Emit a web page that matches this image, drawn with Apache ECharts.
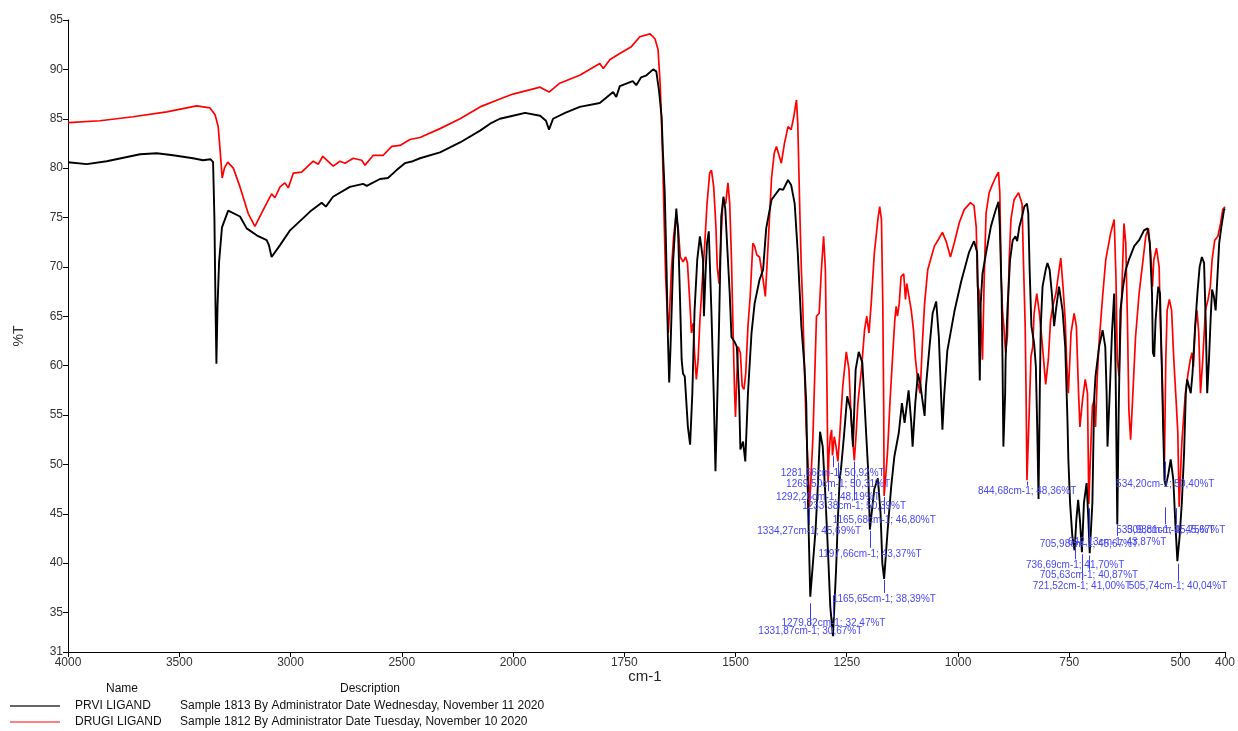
<!DOCTYPE html>
<html><head><meta charset="utf-8">
<script src="https://cdn.jsdelivr.net/npm/echarts@6/dist/echarts.min.js"></script>
<style>html,body{margin:0;padding:0;background:#fff}#c{width:1238px;height:731px}</style>
</head><body><div id="c"></div>
<script>
// ---- axis ticks ----
const xTicksHigh = [4000, 3500, 3000, 2500];
const xTicksLow = [2000, 1750, 1500, 1250, 1000, 750, 500, 400];
const yTicks = [31, 35, 40, 45, 50, 55, 60, 65, 70, 75, 80, 85, 90, 95];

// ---- PRVI LIGAND (black) ----
const prviWn = [4000,3916,3826,3676,3601,3528,3438,3393,3359,3348,3342,3337,3333,3328,3321,3308,3280,3227,3197,3152,3107,3097,3085,3047,3002,2912,2860,2841,2809,2733,2674,2657,2598,2562,2523,2486,2450,2418,2328,2238,2148,2103,2059,2000,
1973,1939,1926,1919,1910,1883,1850,1805,1775,1768,1760,1731,1723,1712,1700,1685,1678,1672,1666,1663,1659,1655,1652,1649,1646,1640,1633,1629,1625,1621,1618,1614,1607,1602,1597,1592,1586,1580,1577,1573,1571,1567,1564,1560,1554,1549,1545,1542,1537,1532,1527,1523,1517,1513,1509,1502,1497,1492,1489,1483,1478,1472,1464,1457,1446,1438,1431,1419,1401,1393,1382,1375,1367,1360,1352,1345,1341,1337,1332,1326,1320,1315,1310,1304,1298,1292,1287,1281,1274,1270,1266,1263,1256,1249,1241,1236,1230,1223,1215,1210,1206,1202,1198,1193,1188,1180,1174,1170,1166,1158,1150,1143,1133,1126,1120,1111,1105,1102,1096,1090,1085,1079,1075,1072,1064,1057,1049,1043,1038,1035,1031,1024,1008,993,975,964,957,954,951,949,945,937,926,915,909,906,902,900,898,894,893,889,883,877,871,867,862,856,851,845,842,839,835,829,825,822,819,816,814,810,803,799,794,789,784,780,773,765,759,754,752,748,743,738,734,730,726,721.5,717,711,707,704,698,694,691,683,675,669,666,664,659,654,649,646,642,639,635,629,623,616,604,593,582,574,569,564,562,559,556,550,546,542,539,536,533,527,522,516,512,507,502,497,492,488,485,481,477,473,467,462,457,452,447,443,440,436,432,429,425,421,417,413,408,402,400];
const prviT = [80.6,80.4,80.7,81.4,81.5,81.3,81.0,80.8,80.9,80.6,75,66,60.2,66,70.5,74.0,75.7,75.1,73.9,73.2,72.7,72.2,71.0,72.2,73.7,75.6,76.5,76.1,77.1,78.1,78.4,78.2,78.9,79.0,79.8,80.5,80.7,81.0,81.6,82.6,83.8,84.5,85.0,85.3,
85.6,85.3,84.8,83.9,85.0,85.6,86.2,86.6,87.7,87.2,88.3,88.8,88.4,89.2,89.4,90.0,89.8,87.9,85.2,81.5,77.5,70,63,58.3,61.9,70.7,75.9,73.6,67.3,60.6,59.2,58.9,53.8,52.0,57.2,65.6,70.7,73.1,72.1,70.7,65.0,69.7,72.4,73.6,65.3,57.2,49.3,54.5,64.0,75.1,77.1,75.9,70.7,67.3,62.9,62.4,61.9,57.2,51.5,52.3,50.3,57.2,63.3,66.3,68.7,69.7,73.9,76.8,77.9,77.8,78.8,78.3,76.4,71.4,64.0,59.9,56.2,46,36.6,40.0,43.4,47.8,53.3,51.8,46.8,41.0,35.6,32.6,39.3,44.4,48.4,49.5,53,56.9,55.5,51.8,59.6,61.4,60.3,56.2,52.8,49.5,43.4,45.5,47.5,48.6,45,40,38.4,43.4,47.8,50.8,53.2,56.2,54.2,57.5,54.2,51.8,56.2,59.2,58.2,56.2,54.9,57.9,61.9,65.3,66.5,62.9,57,53.5,57,61.5,65.5,68.5,71.5,72.6,71.5,65,58.5,66.3,69.3,71.4,74.1,75.8,76.6,74.1,67.3,60.6,51.8,57.2,60.6,65.6,70.7,72.7,73.1,72.6,74.1,75.1,76.1,76.4,75.4,69.7,64.0,62.3,59.9,53.8,46.5,58,64.0,68.0,69.7,70.4,69.7,67.3,64.0,65.6,68.0,65.6,61.9,54.5,50.5,46,42.7,41.3,44.4,46.4,44.4,41.1,46.1,48.1,44.4,41.0,46.1,56.6,58.9,61.9,63.6,61.9,57.2,51.8,57.2,63.3,67.3,60,43.9,55,65.6,68.0,69.7,70.7,72.1,72.7,73.7,73.9,72.4,67.3,61.3,60.9,64.6,68.0,67.3,59.9,53.8,48.4,47.8,49.1,50.5,48.4,44.4,40.2,42.7,46.1,51.1,57.2,58.6,58.7,57.2,59.2,64.0,67.3,70.0,71.0,70.4,64.0,57.2,60.6,65.0,67.7,67.0,65.6,69.0,72.4,74.1,75.8,75.9];

// ---- DRUGI LIGAND (red) ----
const drugiWn = [4000,3856,3707,3556,3422,3362,3339,3325,3317,3307,3297,3282,3257,3227,3190,3160,3122,3085,3070,3047,3025,3010,2987,2950,2898,2875,2855,2808,2778,2755,2718,2680,2665,2628,2583,2545,2508,2463,2418,2328,2238,2148,2059,2000,
1939,1919,1895,1850,1805,1797,1782,1760,1734,1715,1692,1681,1674,1669,1664,1660,1657,1651,1648,1644,1639,1634,1629,1624,1618,1612,1608,1603,1599,1595,1592,1588,1584,1580,1574,1569,1564,1558,1554,1549,1544,1541,1537,1533,1528,1522,1517,1513,1509,1506,1502,1500,1497,1494,1489,1485,1481,1477,1472,1467,1461,1457,1452,1446,1438,1433,1427,1419,1413,1408,1397,1390,1382,1375,1369,1363,1360,1358,1355,1352,1349,1345,1341,1337,1334,1331,1326,1318,1312,1307,1302,1298,1295,1292,1290,1287,1284,1282,1278,1274,1270,1266,1259,1251,1245,1240,1233,1229,1225,1217,1210,1205,1200,1195,1188,1180,1176,1172,1169,1167,1166,1162,1158,1153,1147,1142,1139,1136,1132,1128,1122,1118,1115,1111,1105,1100,1096,1090,1085,1080,1075,1068,1060,1053,1045,1035,1026,1017,1008,997,986,972,964,959,956,953,949,946,945,941,937,930,923,915,909,906,903,900,897,893,889,885,881,874,864,856,853,849,847,845,840,836,832,829,823,817,810,803,797,792,787,780,775,769,764,759,756,752,746,739,734,729,726,720,714,709,706,703,698,694,691,687,683,675,668,657,649,645,642,638,632,627,623,619,616,612,607,601,593,586,578,572,567,563,560,554,548,545,541,539,536,533,530,525,520,515,510,506,503,500,497,489,483,478,474,471,467,463,459,455,450,444,438,433,429,423,416,410,405,400];
const drugiT = [84.6,84.8,85.2,85.7,86.3,86.1,85.4,84.2,82,79.0,80.0,80.6,80.0,78.1,75.4,74.1,75.8,77.4,77.0,78.1,78.5,78.0,79.5,79.6,80.7,80.4,81.2,80.2,80.7,80.5,81.0,80.8,80.3,81.3,81.3,82.2,82.3,82.9,83.1,84.0,85.0,86.2,87.0,87.5,
88.2,87.7,88.6,89.4,90.6,90.1,91.0,91.6,92.3,93.3,93.6,93.1,92.0,88.3,81.5,74.1,69.0,63.3,65.6,69.7,73.1,75.1,74.1,71.0,70.5,71.0,70.4,66.7,63.3,64.3,61.3,58.6,60.6,64.6,69.0,72.4,76.4,79.5,79.8,78.1,74.1,70.0,68.3,72.4,76.8,76.4,78.5,76.4,70.7,64.6,57.2,54.8,58.9,61.9,61.3,57.9,57.6,59.2,64.0,67.0,72.4,72.1,71.2,71.0,68.7,67.0,72,79.0,81.5,82.2,80.5,82.5,84.2,83.9,85.2,86.9,84.5,80.5,74.8,69.7,66.3,59.6,53.5,50.1,45.7,48,52.8,65.0,65.3,69.7,73.1,69.7,59.6,48.2,51,52.8,53.5,50.9,52.8,51.8,50.3,52.8,57.9,61.4,59.6,54.5,50.4,53,56.2,59.6,63.6,65.0,63.3,66.3,71.4,74.8,76.1,74.8,66.3,56,46.8,49,51.5,56.2,60.9,64.6,66.0,65.0,66.3,69.0,69.3,66.7,68.3,68.3,65.6,63.6,60.9,58.2,57.2,62.3,66.3,69.7,71.0,72.1,72.7,73.5,72.5,71,72.5,74.5,75.8,76.5,76.2,74,68,67.7,65.0,61.9,60.6,69.0,75.4,77.5,78.3,79.1,79.6,77.5,69.0,65.6,64.0,61.3,63.0,70.7,74.8,76.8,77.5,76.4,70.7,64.0,57.2,48.4,55.2,60.9,61.9,65.3,67.3,65.3,61.9,58.1,60.6,64.6,66.0,67.3,69.0,70.9,68.0,64.6,60.6,57.2,63.3,65.3,64.0,57.2,53.8,56.6,58.6,57.2,46,50,55.9,56.5,53.8,58.9,62.3,67.0,70.7,73.4,74.8,69.0,60.6,58.9,67.3,74.4,72.4,64.0,55.5,52.5,57.2,62.9,67.3,70.0,73.1,73.9,71.4,68.0,70.7,71.9,70.0,64.0,58.9,54.8,50.4,60.6,65.6,66.7,65.6,60.6,56.6,53.2,45.7,49,52.2,57.2,59.2,60.6,61.3,59.9,64.0,65.6,63.3,57.2,60.6,65.6,66.7,68.0,70.7,72.7,73.1,74.4,75.8,76.1];

// ---- peak picks ----
const peakWn = [1281.66,1269.50,1292.26,1233.38,1165.68,1334.27,1197.66,1165.65,1279.82,1331.87,844.68,534.20,533.93,509.81,705.98,642.13,736.69,705.63,721.52,505.74];
const peakT  = [50.92,50.31,48.19,50.39,46.80,45.69,43.37,38.39,32.47,30.67,48.36,50.40,45.75,45.67,45.67,43.87,41.70,40.87,41.00,40.04];
// label placement (pixels below the peak point)
const peakLabelDy = [18,23,15,46,24,24,24,20,-14,-24,11,24,24,23,37,17,19,21,33,24];

const fmt = v => v.toFixed(2).replace('.', ',');
const pair = (w, t) => w.map((x, i) => [x, t[i]]);
const prvi = pair(prviWn, prviT), drugi = pair(drugiWn, drugiT);
const hi = d => d.filter(p => p[0] >= 2000);
const lo = d => d.filter(p => p[0] <= 2000);

const FONT = 'Liberation Sans, Arial, sans-serif';
const plain = v => String(v);
const axisCommon = {
  type: 'value', inverse: true, splitLine: { show: false },
  axisLine: { show: true, onZero: false, lineStyle: { color: '#000', width: 1 } },
  axisTick: { show: true, length: 5, lineStyle: { color: '#000' } },
  axisLabel: { color: '#333', fontSize: 12, fontFamily: FONT, margin: 5, formatter: plain }
};

const legendGraphics = [
  { type: 'text', x: 645, y: 677, style: { text: 'cm-1', fill: '#222', font: '15px ' + FONT, textAlign: 'center', textVerticalAlign: 'middle' } },
  { type: 'text', x: 122, y: 689, style: { text: 'Name', fill: '#111', font: '12px ' + FONT, textAlign: 'center', textVerticalAlign: 'middle' } },
  { type: 'text', x: 370, y: 689, style: { text: 'Description', fill: '#111', font: '12px ' + FONT, textAlign: 'center', textVerticalAlign: 'middle' } },
  { type: 'line', shape: { x1: 10, y1: 706, x2: 60, y2: 706 }, style: { stroke: '#666', lineWidth: 2 } },
  { type: 'text', x: 75, y: 706, style: { text: 'PRVI LIGAND', fill: '#111', font: '12px ' + FONT, textVerticalAlign: 'middle' } },
  { type: 'text', x: 180, y: 706, style: { text: 'Sample 1813 By Administrator Date Wednesday, November 11 2020', fill: '#111', font: '12px ' + FONT, textVerticalAlign: 'middle' } },
  { type: 'line', shape: { x1: 10, y1: 722, x2: 60, y2: 722 }, style: { stroke: '#ff0000', lineWidth: 1 } },
  { type: 'text', x: 75, y: 722, style: { text: 'DRUGI LIGAND', fill: '#111', font: '12px ' + FONT, textVerticalAlign: 'middle' } },
  { type: 'text', x: 180, y: 722, style: { text: 'Sample 1812 By Administrator Date Tuesday, November 10 2020', fill: '#111', font: '12px ' + FONT, textVerticalAlign: 'middle' } }
];

const chart = echarts.init(document.getElementById('c'), null, { renderer: 'canvas' });
chart.setOption({
  animation: false,
  backgroundColor: '#fff',
  grid: [
    { left: 68, width: 445, top: 20, height: 632 },
    { left: 513, width: 713, top: 20, height: 632 }
  ],
  xAxis: [
    Object.assign({}, axisCommon, { gridIndex: 0, min: 2000, max: 4000,
      axisTick: Object.assign({}, axisCommon.axisTick, { customValues: xTicksHigh }),
      axisLabel: Object.assign({}, axisCommon.axisLabel, { customValues: xTicksHigh }) }),
    Object.assign({}, axisCommon, { gridIndex: 1, min: 400, max: 2000,
      axisTick: Object.assign({}, axisCommon.axisTick, { customValues: xTicksLow }),
      axisLabel: Object.assign({}, axisCommon.axisLabel, { customValues: xTicksLow }) })
  ],
  yAxis: [
    { type: 'value', gridIndex: 0, min: 31, max: 95, splitLine: { show: false },
      axisLine: { show: true, lineStyle: { color: '#000' } },
      axisTick: { show: true, length: 5, customValues: yTicks, lineStyle: { color: '#000' } },
      axisLabel: { customValues: yTicks, color: '#333', fontSize: 12, fontFamily: FONT, margin: 5, formatter: plain },
      name: '%T', nameLocation: 'middle', nameGap: 42, nameRotate: 90,
      nameTextStyle: { color: '#333', fontSize: 14, fontFamily: FONT } },
    { type: 'value', gridIndex: 1, min: 31, max: 95, show: false }
  ],
  series: [
    { type: 'line', xAxisIndex: 0, yAxisIndex: 0, data: hi(drugi), symbol: 'none', lineStyle: { color: '#ff0000', width: 1.7 } },
    { type: 'line', xAxisIndex: 0, yAxisIndex: 0, data: hi(prvi), symbol: 'none', lineStyle: { color: '#000', width: 1.9 } },
    { type: 'line', xAxisIndex: 1, yAxisIndex: 1, data: lo(drugi), symbol: 'none', lineStyle: { color: '#ff0000', width: 1.7 } },
    { type: 'line', xAxisIndex: 1, yAxisIndex: 1, data: lo(prvi), symbol: 'none', lineStyle: { color: '#000', width: 1.9 } }
  ],
  graphic: legendGraphics
});

// peak annotations positioned through the axis scales
const peakGraphics = [];
peakWn.forEach((w, i) => {
  const [px, py] = chart.convertToPixel({ xAxisIndex: 1, yAxisIndex: 1 }, [w, peakT[i]]);
  const dy = peakLabelDy[i];
  const textY = py + dy;
  const bottom = textY - 6;
  const top = dy > 0 ? py + 1 : bottom - 22;
  if (bottom - top >= 2) {
    peakGraphics.push({ type: 'line', silent: true, z: 50,
      shape: { x1: Math.round(px) + 0.5, y1: top, x2: Math.round(px) + 0.5, y2: bottom },
      style: { stroke: '#3a3af0', lineWidth: 1 } });
  }
  peakGraphics.push({ type: 'text', silent: true, z: 51, x: px, y: textY,
    style: { text: fmt(w) + 'cm-1; ' + fmt(peakT[i]) + '%T', fill: '#4646f5', font: '10px ' + FONT,
      textAlign: 'center', textVerticalAlign: 'middle' } });
});
chart.setOption({ graphic: legendGraphics.concat(peakGraphics) });
</script></body></html>
